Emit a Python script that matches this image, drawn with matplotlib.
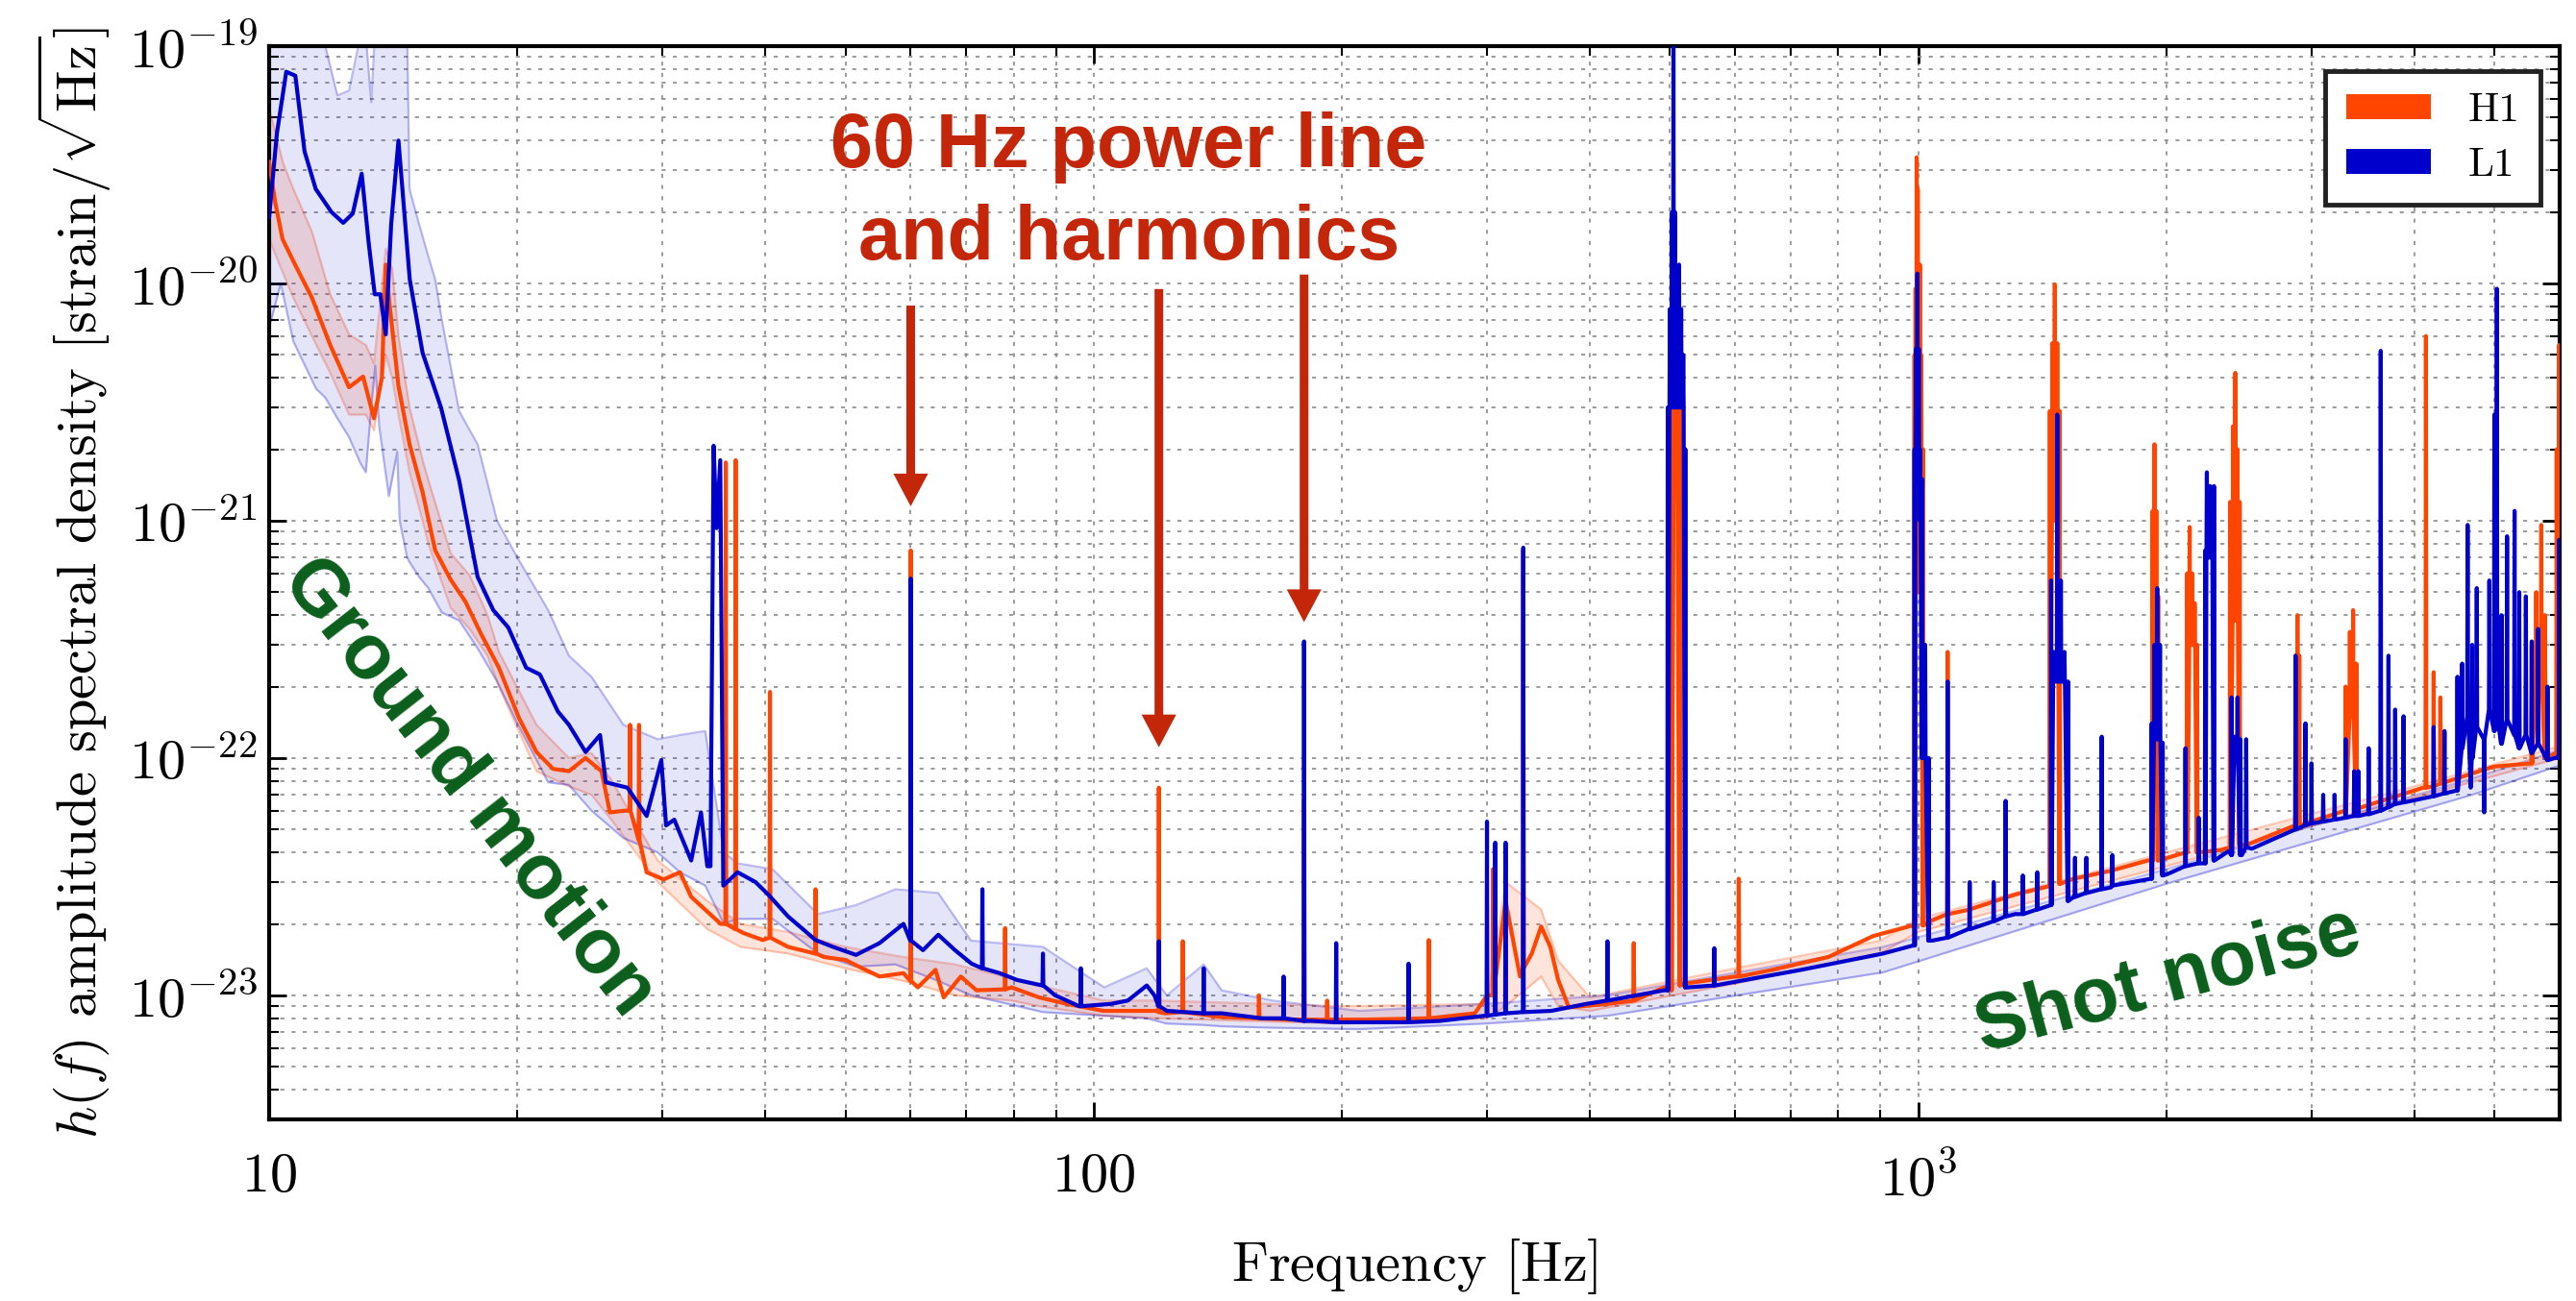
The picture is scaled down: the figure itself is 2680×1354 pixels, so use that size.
import numpy as np
import matplotlib
matplotlib.use("Agg")
import matplotlib.pyplot as plt
from matplotlib.lines import Line2D
from matplotlib.ticker import FixedLocator, FixedFormatter, LogLocator, NullFormatter

# ---------------- data ----------------
# H1 broadband median
h1_freq = [10, 10.17, 10.38, 10.7, 11.27, 11.86, 12.5, 13.0, 13.4, 13.7,
           13.85, 13.97, 14.35, 14.8, 15.35, 15.9, 16.6, 17.3, 18.1, 19.0,
           20.1, 21.1, 22.1, 23.1, 24.2, 25.3, 25.9, 27.0, 28.7, 30.1,
           31.5, 32.5, 34.5, 35.3, 37.6, 39.7, 42.6, 47.1, 50.0, 52.4,
           55.0, 58.8, 61.2, 64.3, 65.8, 69.0, 72.1, 79.5, 85.9, 92.8,
           102.8, 108.5, 119.0, 122.0, 143.0, 172.0, 213.0, 290.0, 300.0, 316.0,
           329.0, 340.0, 349.0, 358.0, 366.0, 377.0, 420.0, 492.0, 520.0, 600.0,
           665.0, 778.0, 883.0, 985.0, 1040.0, 1150.0, 1312.0, 1440.0, 1545.0, 1714.0,
           1900.0, 2110.0, 2330.0, 2500.0, 2950.0, 3450.0, 4100.0, 4990.0, 6000.0]
h1_asd = [3.25e-20, 2.2e-20, 1.54e-20, 1.24e-20, 8.7e-21, 5.5e-21, 3.65e-21, 4.05e-21, 2.7e-21, 4.0e-21,
          1.2e-20, 8.7e-21, 3.7e-21, 2.1e-21, 1.32e-21, 7.5e-22, 5.65e-22, 4.56e-22, 3.3e-22, 2.4e-22,
          1.47e-22, 1.06e-22, 9.0e-23, 8.8e-23, 1.0e-22, 8.8e-23, 5.9e-23, 6.0e-23, 3.3e-23, 3.08e-23,
          3.3e-23, 2.6e-23, 2.15e-23, 2.0e-23, 1.83e-23, 1.71e-23, 1.6e-23, 1.45e-23, 1.41e-23, 1.3e-23,
          1.2e-23, 1.24e-23, 1.08e-23, 1.28e-23, 0.98e-23, 1.2e-23, 1.05e-23, 1.08e-23, 0.98e-23, 0.92e-23,
          0.86e-23, 0.86e-23, 0.86e-23, 0.84e-23, 0.81e-23, 0.79e-23, 0.79e-23, 0.84e-23, 1.0e-23, 2.5e-23,
          1.2e-23, 1.5e-23, 1.95e-23, 1.6e-23, 1.16e-23, 0.89e-23, 0.92e-23, 1.08e-23, 1.12e-23, 1.2e-23,
          1.28e-23, 1.45e-23, 1.78e-23, 1.97e-23, 2.07e-23, 2.29e-23, 2.66e-23, 2.88e-23, 3.1e-23, 3.35e-23,
          3.7e-23, 4.0e-23, 4.1e-23, 4.3e-23, 5.3e-23, 6.2e-23, 7.5e-23, 9.2e-23, 1.06e-22]

# H1 narrow lines: centre frequency, peak, level at the foot
h1_line_freq = [27.4, 28.1, 35.8, 36.8, 40.5, 46.0, 60.0, 78.1, 120.0, 128.3,
                158.7, 180.0, 192.0, 255.0, 305.0, 332.0, 452.0, 502.0, 506.0, 510.0,
                514.0, 606.0, 990.0, 993.0, 996.0, 999.0, 1002.0, 1005.0, 1009.0, 1014.0,
                1086.0, 1445.0, 1455.0, 1465.0, 1475.0, 1485.0, 1925.0, 1935.0, 1945.0, 1955.0,
                2120.0, 2135.0, 2150.0, 2165.0, 2180.0, 2390.0, 2410.0, 2425.0, 2440.0, 2455.0,
                2870.0, 2885.0, 2900.0, 3300.0, 3340.0, 3370.0, 3400.0, 4130.0, 4220.0, 4300.0,
                5550.0, 5620.0, 5700.0, 5760.0, 5950.0, 5990.0]
h1_line_top = [1.38e-22, 1.38e-22, 1.76e-21, 1.8e-21, 1.9e-22, 2.8e-23, 7.5e-22, 1.92e-23, 7.5e-23, 1.69e-23,
               1.0e-23, 6.7e-23, 0.95e-23, 1.71e-23, 3.4e-23, 7.5e-22, 1.66e-23, 5.0e-21, 8.0e-21, 6.0e-21,
               3.0e-21, 3.1e-23, 5.0e-21, 9.5e-21, 3.4e-20, 2.5e-20, 9.5e-21, 1.2e-20, 5.0e-21, 2.0e-21,
               2.8e-22, 2.9e-21, 5.6e-21, 9.9e-21, 5.6e-21, 2.9e-21, 1.1e-21, 2.1e-21, 1.1e-21, 4.8e-22,
               6.0e-22, 9.4e-22, 6.0e-22, 4.5e-22, 3.0e-22, 1.2e-21, 2.5e-21, 4.2e-21, 2.0e-21, 1.2e-21,
               2.7e-22, 4.0e-22, 2.7e-22, 2.0e-22, 3.4e-22, 4.2e-22, 2.5e-22, 6.0e-21, 2.3e-22, 1.8e-22,
               3.0e-22, 5.0e-22, 9.6e-22, 4.0e-22, 2.0e-21, 5.5e-21]
h1_line_floor = [6.0e-23, 4.5e-23, 2.0e-23, 1.9e-23, 1.75e-23, 1.5e-23, 1.15e-23, 1.06e-23, 0.85e-23, 0.85e-23,
                 0.8e-23, 0.79e-23, 0.79e-23, 0.8e-23, 1.0e-23, 1.3e-23, 0.95e-23, 1.05e-23, 2.0e-21, 2.0e-21,
                 1.1e-23, 1.2e-23, 1.95e-23, 5.0e-22, 5.0e-22, 5.0e-22, 5.0e-22, 5.0e-22, 5.0e-22, 1.97e-23,
                 2.2e-23, 2.9e-23, 1.0e-21, 1.0e-21, 1.0e-21, 2.95e-23, 3.7e-23, 4.8e-22, 4.8e-22, 3.7e-23,
                 4.0e-23, 3.0e-22, 3.0e-22, 3.0e-22, 4.0e-23, 4.2e-23, 3.8e-22, 3.8e-22, 3.8e-22, 4.3e-23,
                 5.2e-23, 1.5e-22, 5.2e-23, 6.0e-23, 1.5e-22, 1.5e-22, 6.1e-23, 7.5e-23, 7.6e-23, 7.8e-23,
                 9.5e-23, 2.2e-22, 2.2e-22, 1.0e-22, 1.05e-22, 1.05e-22]

# L1 broadband median
l1_freq = [10, 10.22, 10.49, 10.76, 11.04, 11.39, 11.9, 12.3, 12.63, 12.95,
           13.2, 13.43, 13.64, 13.85, 14.06, 14.35, 14.81, 15.35, 16.16, 17.0,
           17.9, 18.7, 19.5, 20.5, 21.3, 22.4, 23.1, 24.2, 25.2, 25.6,
           27.2, 28.7, 29.9, 30.3, 31.0, 32.5, 33.4, 34.0, 34.3, 34.6,
           34.9, 35.25, 35.55, 37.0, 38.9, 40.3, 42.6, 46.0, 48.3, 51.5,
           55.0, 58.8, 62.1, 64.8, 67.9, 71.1, 76.9, 80.8, 89.8, 96.0,
           104.9, 110.0, 116.0, 118.5, 122.7, 143.0, 160.0, 183.7, 210.0, 263.0,
           298.0, 359.0, 396.0, 492.0, 525.0, 721.0, 907.0, 985.0, 1040.0, 1150.0,
           1312.0, 1545.0, 1714.0, 2010.0, 2380.0, 2470.0, 2540.0, 3495.0, 4680.0, 5970.0]
l1_asd = [1.9e-20, 4.3e-20, 7.8e-20, 7.5e-20, 3.6e-20, 2.5e-20, 2.0e-20, 1.8e-20, 1.97e-20, 2.9e-20,
          1.5e-20, 9.0e-21, 9.0e-21, 6.1e-21, 1.77e-20, 4.0e-20, 1.04e-20, 5.1e-21, 3.0e-21, 1.48e-21,
          5.8e-22, 4.2e-22, 3.55e-22, 2.4e-22, 2.25e-22, 1.57e-22, 1.38e-22, 1.06e-22, 1.25e-22, 7.9e-23,
          7.5e-23, 5.7e-23, 9.8e-23, 5.2e-23, 5.5e-23, 3.7e-23, 5.9e-23, 3.5e-23, 3.5e-23, 2.07e-21,
          9.3e-22, 1.8e-21, 2.9e-23, 3.3e-23, 3.0e-23, 2.66e-23, 2.15e-23, 1.71e-23, 1.6e-23, 1.48e-23,
          1.66e-23, 2.0e-23, 1.55e-23, 1.8e-23, 1.55e-23, 1.36e-23, 1.24e-23, 1.16e-23, 1.0e-23, 0.9e-23,
          0.92e-23, 0.95e-23, 1.1e-23, 1.0e-23, 0.86e-23, 0.84e-23, 0.8e-23, 0.78e-23, 0.77e-23, 0.78e-23,
          0.82e-23, 0.86e-23, 0.92e-23, 1.05e-23, 1.08e-23, 1.28e-23, 1.5e-23, 1.62e-23, 1.7e-23, 1.9e-23,
          2.2e-23, 2.6e-23, 2.85e-23, 3.25e-23, 4.05e-23, 3.9e-23, 4.15e-23, 5.8e-23, 7.5e-23, 1.01e-22]

# L1 narrow lines: centre frequency, peak, level at the foot
l1_line_freq = [60.0, 73.3, 86.8, 96.5, 120.0, 136.0, 170.0, 180.0, 196.9, 241.0,
                300.0, 307.0, 316.0, 332.0, 420.0, 497.0, 500.0, 503.0, 505.0, 507.0,
                510.0, 513.0, 516.0, 519.0, 522.0, 566.0, 990.0, 994.0, 998.0, 1002.0,
                1006.0, 1011.0, 1020.0, 1030.0, 1086.0, 1155.0, 1235.0, 1277.0, 1340.0, 1395.0,
                1450.0, 1460.0, 1475.0, 1490.0, 1505.0, 1520.0, 1550.0, 1600.0, 1670.0, 1720.0,
                1920.0, 1935.0, 1950.0, 1965.0, 1980.0, 2110.0, 2190.0, 2230.0, 2240.0, 2250.0,
                2260.0, 2272.0, 2285.0, 2400.0, 2420.0, 2440.0, 2460.0, 2500.0, 2870.0, 2950.0,
                3000.0, 3100.0, 3200.0, 3300.0, 3380.0, 3420.0, 3520.0, 3640.0, 3720.0, 3790.0,
                3880.0, 4220.0, 4350.0, 4510.0, 4570.0, 4640.0, 4700.0, 4760.0, 4860.0, 4930.0,
                5000.0, 5035.0, 5100.0, 5180.0, 5290.0, 5360.0, 5460.0, 5550.0, 5650.0, 5800.0,
                5990.0]
l1_line_top = [5.7e-22, 2.8e-23, 1.5e-23, 1.3e-23, 1.69e-23, 1.3e-23, 1.2e-23, 3.1e-22, 1.66e-23, 1.36e-23,
               5.4e-23, 4.4e-23, 4.4e-23, 7.7e-22, 1.69e-23, 3.0e-21, 7.8e-21, 2.0e-20, 1.0e-19, 2.0e-20,
               7.8e-21, 1.2e-20, 7.8e-21, 5.0e-21, 2.0e-21, 1.58e-23, 2.0e-21, 5.3e-21, 1.1e-20, 5.3e-21,
               2.0e-21, 1.5e-21, 3.0e-22, 1.0e-22, 2.1e-22, 3.0e-23, 3.0e-23, 6.6e-23, 3.2e-23, 3.3e-23,
               5.6e-22, 2.8e-22, 2.8e-21, 5.6e-22, 2.8e-22, 2.1e-22, 3.8e-23, 3.8e-23, 1.23e-22, 3.9e-23,
               1.4e-22, 3.0e-22, 5.2e-22, 3.0e-22, 1.16e-22, 1.1e-22, 5.6e-23, 7.5e-22, 1.6e-21, 8.9e-22,
               1.4e-21, 7.5e-22, 1.4e-21, 1.8e-22, 1.23e-22, 1.8e-22, 1.2e-22, 1.2e-22, 2.7e-22, 1.4e-22,
               9.5e-23, 7.0e-23, 7.0e-23, 1.2e-22, 8.8e-23, 8.8e-23, 1.1e-22, 5.2e-21, 2.7e-22, 1.6e-22,
               1.5e-22, 1.35e-22, 1.3e-22, 2.2e-22, 2.5e-22, 9.6e-22, 3.0e-22, 5.2e-22, 5.9e-23, 5.6e-22,
               2.8e-21, 9.5e-21, 4.0e-22, 8.6e-22, 1.1e-21, 5.0e-22, 4.8e-22, 3.1e-22, 3.5e-22, 2.0e-22,
               8.3e-22]
l1_line_floor = [1.7e-23, 1.3e-23, 1.1e-23, 0.9e-23, 0.9e-23, 0.84e-23, 0.8e-23, 0.78e-23, 0.77e-23, 0.77e-23,
                 0.82e-23, 0.83e-23, 0.84e-23, 0.85e-23, 0.95e-23, 1.05e-23, 3.0e-21, 3.0e-21, 3.0e-21, 3.0e-21,
                 3.0e-21, 3.0e-21, 3.0e-21, 3.0e-21, 1.08e-23, 1.1e-23, 1.62e-23, 2.0e-21, 2.0e-21, 2.0e-21,
                 1.0e-21, 1.0e-22, 1.0e-22, 1.7e-23, 1.75e-23, 1.9e-23, 2.05e-23, 2.15e-23, 2.2e-23, 2.3e-23,
                 2.4e-23, 2.1e-22, 2.1e-22, 2.1e-22, 2.1e-22, 2.5e-23, 2.6e-23, 2.7e-23, 2.8e-23, 2.9e-23,
                 3.1e-23, 1.2e-22, 1.2e-22, 1.2e-22, 3.2e-23, 3.5e-23, 3.6e-23, 3.6e-23, 7.0e-22, 7.0e-22,
                 7.0e-22, 7.0e-22, 3.7e-23, 3.9e-23, 1.0e-22, 1.0e-22, 3.9e-23, 4.2e-23, 5.0e-23, 5.2e-23,
                 5.3e-23, 5.4e-23, 5.5e-23, 5.6e-23, 5.7e-23, 5.7e-23, 5.8e-23, 6.0e-23, 6.2e-23, 6.4e-23,
                 6.5e-23, 6.9e-23, 7.1e-23, 7.3e-23, 1.1e-22, 1.5e-22, 1.0e-22, 1.35e-22, 1.2e-22, 1.6e-22,
                 1.3e-22, 1.5e-22, 1.15e-22, 1.45e-22, 1.25e-22, 1.1e-22, 1.25e-22, 1.05e-22, 1.15e-22, 9.8e-23,
                 1.0e-22]

# 5%-95% spread bands
h1_band_freq = [10, 10.4, 10.7, 11.27, 11.86, 12.5, 13.1, 13.4, 13.85, 14.1,
                14.35, 14.8, 15.35, 15.6, 16.6, 17.5, 18.4, 19.0, 21.1, 23.1,
                24.6, 26.0, 29.6, 34.0, 37.3, 42.6, 50.0, 58.8, 67.9, 79.5,
                85.9, 103, 120, 200, 300, 316, 349, 366, 400, 600,
                900, 1000, 2000, 4000, 6000]
h1_band_hi = [5.5e-20, 3.2e-20, 2.5e-20, 1.65e-20, 9.0e-21, 6.1e-21, 5.5e-21, 4.6e-21, 1.4e-20, 1.16e-20,
              6.0e-21, 3.0e-21, 1.8e-21, 1.48e-21, 7.3e-22, 5.9e-22, 4.0e-22, 2.8e-22, 1.38e-22, 1.0e-22,
              1.05e-22, 8.1e-23, 3.7e-23, 2.5e-23, 2.0e-23, 1.85e-23, 1.6e-23, 1.45e-23, 1.35e-23, 1.18e-23,
              1.1e-23, 0.95e-23, 0.95e-23, 0.9e-23, 0.92e-23, 3.0e-23, 2.3e-23, 1.4e-23, 0.98e-23, 1.3e-23,
              1.7e-23, 2.1e-23, 4.0e-23, 7.6e-23, 1.12e-22]
h1_band_lo = [1.54e-20, 1.1e-20, 8.7e-21, 6.0e-21, 4.2e-21, 2.8e-21, 2.8e-21, 2.4e-21, 5.0e-21, 4.0e-21,
              2.8e-21, 1.6e-21, 1.0e-21, 8.0e-22, 4.3e-22, 3.5e-22, 2.7e-22, 2.0e-22, 8.8e-23, 7.6e-23,
              7.0e-23, 5.5e-23, 3.0e-23, 1.9e-23, 1.6e-23, 1.5e-23, 1.3e-23, 1.15e-23, 1.0e-23, 0.95e-23,
              0.9e-23, 0.82e-23, 0.8e-23, 0.76e-23, 0.8e-23, 0.9e-23, 1.2e-23, 0.9e-23, 0.86e-23, 1.12e-23,
              1.5e-23, 1.85e-23, 3.5e-23, 6.8e-23, 1.0e-22]

l1_band_freq = [10, 10.33, 10.7, 11.4, 11.7, 12.1, 12.5, 12.9, 13.1, 13.3,
                13.45, 13.6, 13.97, 14.3, 14.4, 14.7, 14.8, 15.2, 15.6, 15.9,
                16.2, 17.0, 17.9, 18.9, 20.0, 21.8, 23.1, 24.6, 26.9, 29.6,
                31.5, 33.8, 35.6, 37.0, 40.8, 46.3, 51.5, 57.5, 64.8, 71.0,
                86.8, 103, 116, 122.7, 136, 143, 165, 210, 298, 420,
                907, 2000, 4700, 6000]
l1_band_hi = [3e-19, 3e-19, 3e-19, 3e-19, 1.0e-19, 6.2e-20, 6.5e-20, 1.1e-19, 1.1e-19, 5.8e-20,
              1.2e-19, 1.2e-19, 1.2e-19, 1.2e-19, 1.2e-19, 1.2e-19, 2.5e-20, 1.78e-20, 1.3e-20, 1.04e-20,
              7.0e-21, 2.9e-21, 2.1e-21, 1.0e-21, 7.0e-22, 4.2e-22, 2.7e-22, 2.2e-22, 1.38e-22, 1.2e-22,
              1.25e-22, 1.3e-22, 4.0e-23, 3.6e-23, 3.4e-23, 2.2e-23, 2.4e-23, 2.8e-23, 2.7e-23, 1.7e-23,
              1.6e-23, 1.08e-23, 1.3e-23, 1.0e-23, 1.35e-23, 1.05e-23, 0.95e-23, 0.86e-23, 0.92e-23, 1.0e-23,
              1.6e-23, 3.4e-23, 8.2e-23, 1.08e-22]
l1_band_lo = [6.5e-21, 1.0e-20, 5.7e-21, 3.6e-21, 3.3e-21, 2.7e-21, 2.25e-21, 1.75e-21, 1.6e-21, 3.0e-21,
              4.5e-21, 2.5e-21, 1.27e-21, 1.95e-21, 1.0e-21, 7.0e-22, 6.7e-22, 5.8e-22, 5.2e-22, 4.6e-22,
              4.1e-22, 3.8e-22, 2.9e-22, 2.1e-22, 1.4e-22, 7.9e-23, 7.7e-23, 6.0e-23, 4.6e-23, 4.0e-23,
              3.3e-23, 2.9e-23, 2.0e-23, 2.1e-23, 2.1e-23, 1.5e-23, 1.32e-23, 1.35e-23, 1.15e-23, 1.0e-23,
              0.85e-23, 0.82e-23, 0.8e-23, 0.76e-23, 0.75e-23, 0.74e-23, 0.73e-23, 0.72e-23, 0.76e-23, 0.82e-23,
              1.25e-23, 2.95e-23, 7.0e-23, 0.93e-22]

detectors = ["H1", "L1"]
x_ticks = [10, 100, 1000]
x_tick_labels = [r"$10$", r"$100$", r"$10^3$"]
y_ticks = [1e-23, 1e-22, 1e-21, 1e-20, 1e-19]
y_tick_labels = [r"$10^{-23}$", r"$10^{-22}$", r"$10^{-21}$", r"$10^{-20}$", r"$10^{-19}$"]
line_harmonics = [60, 120, 180]

for name, a, b in [("h1", h1_freq, h1_asd), ("l1", l1_freq, l1_asd)]:
    assert len(a) == len(b), name
for name, a, b, c in [("h1l", h1_line_freq, h1_line_top, h1_line_floor),
                      ("l1l", l1_line_freq, l1_line_top, l1_line_floor),
                      ("h1b", h1_band_freq, h1_band_lo, h1_band_hi),
                      ("l1b", l1_band_freq, l1_band_lo, l1_band_hi)]:
    assert len(a) == len(b) == len(c), name

# ---------------- style ----------------
plt.rcParams["font.family"] = "serif"
plt.rcParams["font.serif"] = ["cmr10", "DejaVu Serif"]
plt.rcParams["mathtext.fontset"] = "cm"
plt.rcParams["axes.formatter.use_mathtext"] = True

H1_COLOR = "#FF4500"
L1_COLOR = "#0000CD"
RED = "#C4260A"
GREEN = "#0B5E1B"


def with_lines(base_f, base_v, line_f, line_top, line_floor, rel=0.0012):
    f = list(base_f)
    v = list(base_v)
    for lf, top, floor in zip(line_f, line_top, line_floor):
        f += [lf * (1 - rel), lf, lf * (1 + rel)]
        v += [floor, top, floor]
    order = np.argsort(f, kind="stable")
    return np.asarray(f)[order], np.asarray(v)[order]


fig = plt.figure(figsize=(26.8, 13.54), dpi=100)
ax = fig.add_axes([280 / 2680, (1354 - 1165) / 1354, 2383 / 2680, 1117 / 1354])
ax.set_xscale("log")
ax.set_yscale("log")
ax.set_xlim(10, 6000)
ax.set_ylim(3e-24, 1e-19)

# bands
ax.fill_between(h1_band_freq, h1_band_lo, h1_band_hi, color=H1_COLOR, alpha=0.14, lw=0, zorder=1)
ax.plot(h1_band_freq, h1_band_lo, color=H1_COLOR, alpha=0.28, lw=1.6, zorder=1)
ax.plot(h1_band_freq, h1_band_hi, color=H1_COLOR, alpha=0.28, lw=1.6, zorder=1)
ax.fill_between(l1_band_freq, l1_band_lo, l1_band_hi, color=L1_COLOR, alpha=0.10, lw=0, zorder=1.1)
ax.plot(l1_band_freq, l1_band_lo, color=L1_COLOR, alpha=0.3, lw=1.6, zorder=1.1)
ax.plot(l1_band_freq, l1_band_hi, color=L1_COLOR, alpha=0.25, lw=1.6, zorder=1.1)

hf, hv = with_lines(h1_freq, h1_asd, h1_line_freq, h1_line_top, h1_line_floor)
lf, lv = with_lines(l1_freq, l1_asd, l1_line_freq, l1_line_top, l1_line_floor)
ax.plot(hf, hv, color=H1_COLOR, lw=3, zorder=3)
ax.plot(lf, lv, color=L1_COLOR, lw=3, zorder=4)

# axes / ticks
ax.xaxis.set_major_locator(FixedLocator(x_ticks))
ax.xaxis.set_major_formatter(FixedFormatter(x_tick_labels))
ax.xaxis.set_minor_locator(LogLocator(base=10, subs=np.arange(2, 10), numticks=50))
ax.xaxis.set_minor_formatter(NullFormatter())
ax.yaxis.set_major_locator(FixedLocator(y_ticks))
ax.yaxis.set_major_formatter(FixedFormatter(y_tick_labels))
ax.yaxis.set_minor_locator(LogLocator(base=10, subs=np.arange(2, 10), numticks=50))
ax.yaxis.set_minor_formatter(NullFormatter())

ax.tick_params(which="both", direction="in", top=True, right=True)
ax.tick_params(which="major", length=13, width=2, labelsize=42)
ax.tick_params(which="minor", length=7, width=1.5)
ax.tick_params(axis="x", which="major", pad=25)
ax.tick_params(axis="y", which="major", pad=9)
for s in ax.spines.values():
    s.set_linewidth(3)

ax.set_axisbelow(True)
ax.grid(True, which="both", ls=(0, (2.5, 4.5)), color="#8a8a8a", lw=1.2)

ax.set_xlabel(r"Frequency $[\mathrm{Hz}]$", fontsize=42)
ax.xaxis.set_label_coords(0.5, -0.137)
ax.xaxis.label.set_va("center")
ax.set_ylabel(r"$h(f)$ amplitude spectral density $[\mathrm{strain}/\sqrt{\mathrm{Hz}}]$", fontsize=42)
ax.yaxis.label.set_va("center")
ax.yaxis.set_label_coords(-0.0852, 0.5)

# legend
handles = [Line2D([], [], color=H1_COLOR, lw=18.7, solid_capstyle="butt"),
           Line2D([], [], color=L1_COLOR, lw=18.7, solid_capstyle="butt")]
leg = ax.legend(handles, detectors, loc="upper right", bbox_to_anchor=(0.9916, 0.9767),
                borderaxespad=0, fontsize=31, handlelength=2.05, handletextpad=0.9,
                labelspacing=0.45, borderpad=0.5, frameon=True, fancybox=False,
                edgecolor="#222222", framealpha=1)
leg.get_frame().set_linewidth(3.5)
leg.set_zorder(10)

# annotations
sans = ["Liberation Sans", "DejaVu Sans"]
ax.text(0.3754, 0.8872, "60 Hz power line", transform=ax.transAxes, ha="center", va="baseline",
        fontsize=57, fontweight="bold", family=sans, color=RED, zorder=6)
ax.text(0.3754, 0.8013, "and harmonics", transform=ax.transAxes, ha="center", va="baseline",
        fontsize=57, fontweight="bold", family=sans, color=RED, zorder=6)
arrow_top = [8.07e-21, 9.47e-21, 1.09e-20]
arrow_tip = [1.15e-21, 1.11e-22, 3.74e-22]
for fx, yt, yb in zip(line_harmonics, arrow_top, arrow_tip):
    ax.annotate("", xy=(fx, yb), xytext=(fx, yt),
                arrowprops=dict(arrowstyle="simple,head_length=2.45,head_width=2.6,tail_width=0.65",
                                mutation_scale=10, color=RED, lw=0, shrinkA=0, shrinkB=0),
                zorder=6)

ax.text(0.0869, 0.3089, "Ground motion", transform=ax.transAxes, ha="center", va="center",
        rotation=-52, rotation_mode="anchor", fontsize=58, fontweight="bold", family=sans,
        color=GREEN, zorder=6)
ax.text(0.8292, 0.128, "Shot noise", transform=ax.transAxes, ha="center", va="center",
        rotation=15, rotation_mode="anchor", fontsize=58, fontweight="bold", family=sans,
        color=GREEN, zorder=6)

fig.savefig("out.png", dpi=100)
